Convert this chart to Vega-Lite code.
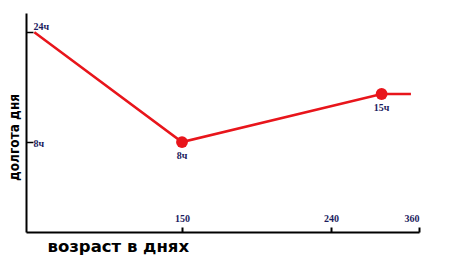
{
  "$schema": "https://vega.github.io/schema/vega-lite/v6.json",
  "width": 393,
  "height": 219,
  "autosize": {"type": "none"},
  "padding": {"left": 26, "top": 13, "right": 36, "bottom": 28},
  "background": "white",
  "config": {"view": {"stroke": null}},
  "data": {
    "values": [
      {"day": 8, "hours": 24, "label": "", "dot": false},
      {"day": 150, "hours": 8, "label": "8ч", "dot": true},
      {"day": 309, "hours": 15, "label": "15ч", "dot": true},
      {"day": 349, "hours": 15, "label": "", "dot": false}
    ]
  },
  "encoding": {
    "x": {
      "field": "day",
      "type": "quantitative",
      "scale": {"domain": [0, 150, 240, 360], "range": [0, 156, 305, 393], "zero": false, "nice": false},
      "axis": {
        "values": [150, 240, 360],
        "title": "возраст в днях",
        "titleFont": "DejaVu Sans",
        "titleFontWeight": "bold",
        "titleFontSize": 16.5,
        "titleColor": "black",
        "titleAnchor": "start",
        "titleAlign": "left",
        "titleX": 21,
        "titleY": 14,
        "titleBaseline": "middle",
        "domainColor": "black",
        "domainWidth": 2,
        "tickColor": "black",
        "tickWidth": 2,
        "tickSize": -5,
        "labelFont": "Liberation Serif",
        "labelFontWeight": "bold",
        "labelFontSize": 10,
        "labelColor": "#1c1c5e",
        "labelBaseline": "bottom",
        "labelPadding": -4,
        "grid": false
      }
    },
    "y": {
      "field": "hours",
      "type": "quantitative",
      "scale": {"domain": [-5.1, 26.8], "zero": false, "nice": false},
      "axis": {
        "values": [8, 24],
        "labelExpr": "datum.value + 'ч'",
        "title": "долгота дня",
        "titleFont": "DejaVu Sans Condensed",
        "titleFontWeight": "bold",
        "titleFontSize": 13.5,
        "titleColor": "black",
        "titleX": -12,
        "titleY": 124,
        "titleAlign": "center",
        "titleBaseline": "middle",
        "domainColor": "black",
        "domainWidth": 2,
        "tickColor": "black",
        "tickWidth": 1.5,
        "tickSize": -7,
        "labelFont": "Liberation Serif",
        "labelFontWeight": "bold",
        "labelFontSize": 10,
        "labelColor": "#1c1c5e",
        "labelAlign": "left",
        "labelPadding": 0,
        "labelOffset": {"condition": {"test": "datum.value == 24", "value": -6}, "value": 1},
        "grid": false
      }
    }
  },
  "layer": [
    {"mark": {"type": "line", "color": "#e8151b", "strokeWidth": 2.5}},
    {
      "transform": [{"filter": "datum.dot"}],
      "mark": {"type": "circle", "color": "#e8151b", "opacity": 1, "size": 140}
    },
    {
      "transform": [{"filter": "datum.dot"}],
      "mark": {"type": "text", "font": "Liberation Serif", "fontWeight": "bold", "fontSize": 10, "color": "#1c1c5e", "dy": 14},
      "encoding": {"text": {"field": "label"}}
    }
  ]
}
